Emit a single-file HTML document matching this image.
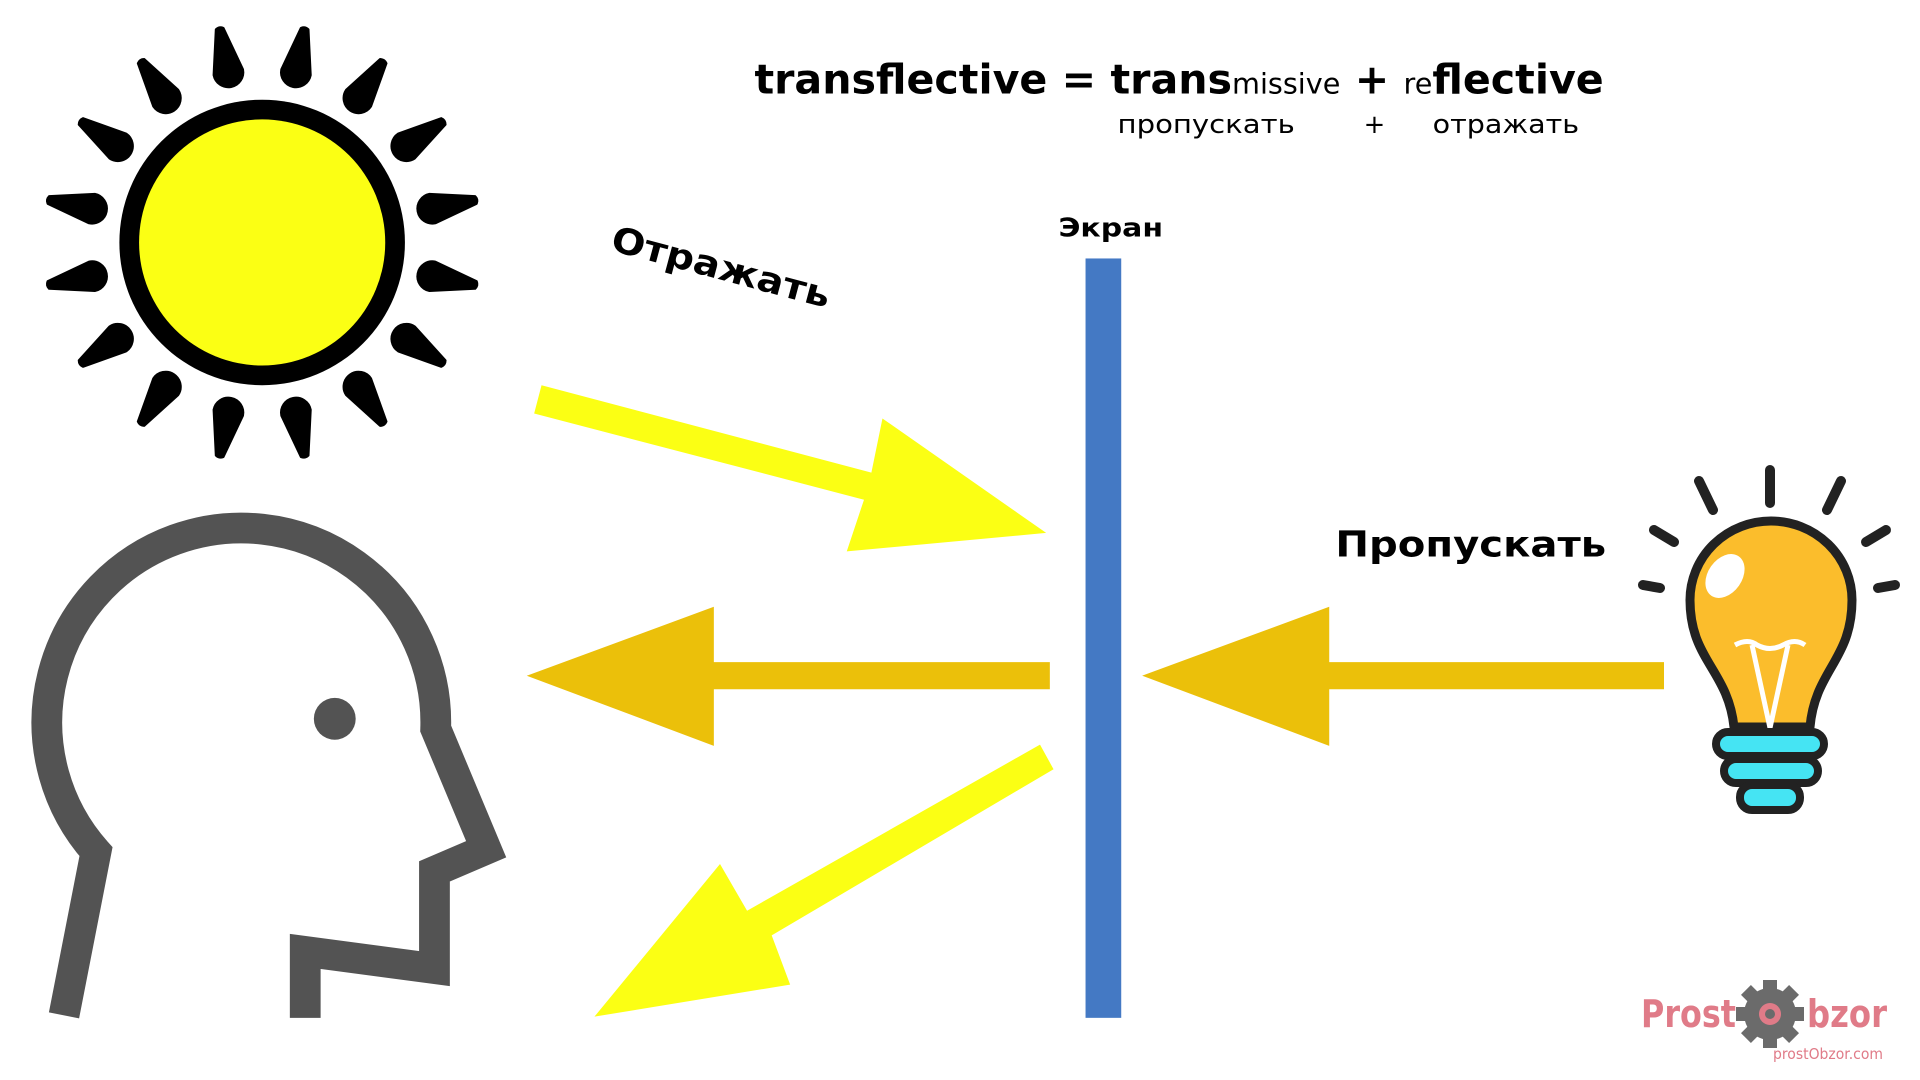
<!DOCTYPE html>
<html><head><meta charset="utf-8"><style>html,body{margin:0;padding:0;background:#fff;}svg{display:block}</style></head>
<body>
<svg width="1920" height="1080" viewBox="0 0 1560 877.5" xmlns="http://www.w3.org/2000/svg" font-family="DejaVu Sans, Liberation Sans, sans-serif">
<rect width="1560" height="877.5" fill="#fff"/>
<!-- sun rays -->
<g transform="translate(213,197)" fill="#000">
  <g id="ray" transform="rotate(11.25)"><path d="M-3,-177 Q0,-179 3,-177 L12,-141 A12 12 0 0 1 -12 -141 Z" stroke="#000" stroke-width="2" stroke-linejoin="round"/></g>
  <use href="#ray" transform="rotate(22.5)"/><use href="#ray" transform="rotate(45)"/><use href="#ray" transform="rotate(67.5)"/>
  <use href="#ray" transform="rotate(90)"/><use href="#ray" transform="rotate(112.5)"/><use href="#ray" transform="rotate(135)"/>
  <use href="#ray" transform="rotate(157.5)"/><use href="#ray" transform="rotate(180)"/><use href="#ray" transform="rotate(202.5)"/>
  <use href="#ray" transform="rotate(225)"/><use href="#ray" transform="rotate(247.5)"/><use href="#ray" transform="rotate(270)"/>
  <use href="#ray" transform="rotate(292.5)"/><use href="#ray" transform="rotate(315)"/><use href="#ray" transform="rotate(337.5)"/>
  <circle r="116" fill="#000"/><circle r="100" fill="#fbff14"/>
</g>
<!-- head -->
<path d="M52,825 L78,692 A158 158 0 1 1 354 592 L395 690 L353 708 L353 787 L248 773 L248 827" fill="none" stroke="#535353" stroke-width="25" stroke-linejoin="miter"/>
<circle cx="272" cy="584" r="17" fill="#535353"/>
<!-- screen -->
<rect x="882" y="210" width="29" height="617" fill="#4479c4"/>
<!-- arrows -->
<polygon points="440,313 708,384 717,340 850,433 688,448 702,406 434,336" fill="#fbff14"/>
<polygon points="853,538 580,538 580,493 428,549 580,606 580,560 853,560" fill="#ebc00a"/>
<polygon points="1352,538 1080,538 1080,493 928,549 1080,606 1080,560 1352,560" fill="#ebc00a"/>
<polygon points="845,605 856,625 627,760 642,800 483,826 585,702 607,740" fill="#fbff14"/>
<!-- text -->
<text x="613" y="76" font-size="33" font-weight="bold" fill="#000" textLength="690" lengthAdjust="spacingAndGlyphs">transflective = trans<tspan font-size="23" font-weight="normal">missive</tspan> + <tspan font-size="23" font-weight="normal">re</tspan>flective</text>
<text x="908" y="108" font-size="21" fill="#000" textLength="144" lengthAdjust="spacingAndGlyphs">пропускать</text>
<text x="1108" y="108" font-size="21" fill="#000">+</text>
<text x="1164" y="108" font-size="21" fill="#000" textLength="119" lengthAdjust="spacingAndGlyphs">отражать</text>
<text x="860" y="192" font-size="21" font-weight="bold" fill="#000" textLength="85" lengthAdjust="spacingAndGlyphs">Экран</text>
<text x="495" y="203" font-size="29" font-weight="bold" fill="#000" transform="rotate(15 495 203)" textLength="183" lengthAdjust="spacingAndGlyphs">Отражать</text>
<text x="1085" y="452" font-size="29" font-weight="bold" fill="#000" textLength="220" lengthAdjust="spacingAndGlyphs">Пропускать</text>
<!-- bulb and logo in full coords -->
<g transform="scale(0.8125)">
  <g stroke="#222" stroke-width="10" stroke-linecap="round">
    <line x1="1770" y1="470" x2="1770" y2="503"/>
    <line x1="1699" y1="481" x2="1713" y2="510"/>
    <line x1="1841" y1="481" x2="1827" y2="510"/>
    <line x1="1654" y1="530" x2="1674" y2="542"/>
    <line x1="1886" y1="530" x2="1866" y2="542"/>
    <line x1="1643" y1="585" x2="1660" y2="588"/>
    <line x1="1878" y1="588" x2="1895" y2="585"/>
  </g>
  <path d="M1734,727 C1728,670 1690,660 1690,600 A80 78 0 0 1 1852 600 C1852,660 1815,670 1810,727 Z" fill="#fbbd2c" stroke="#222" stroke-width="9"/>
  <ellipse cx="1725" cy="576" rx="17" ry="24" transform="rotate(35 1725 576)" fill="#fff"/>
  <path d="M1735,645 Q1748,638 1757,645 Q1770,652 1783,645 Q1795,638 1805,645 M1752,645 L1770,728 L1788,645" fill="none" stroke="#fff" stroke-width="5"/>
  <rect x="1716" y="732" width="108" height="24" rx="12" fill="#45e4f3" stroke="#222" stroke-width="8"/>
  <rect x="1724" y="759" width="94" height="24" rx="12" fill="#45e4f3" stroke="#222" stroke-width="8"/>
  <rect x="1740" y="785" width="60" height="25" rx="12" fill="#45e4f3" stroke="#222" stroke-width="8"/>
  <text x="1641" y="1027" font-size="38" font-weight="bold" fill="#e07b88" textLength="95" lengthAdjust="spacingAndGlyphs">Prost</text>
  <g transform="translate(1770,1014)" fill="#6b6b6b">
    <circle r="26"/>
    <g id="t"><rect x="-7" y="-34" width="14" height="14"/></g>
    <use href="#t" transform="rotate(45)"/><use href="#t" transform="rotate(90)"/><use href="#t" transform="rotate(135)"/>
    <use href="#t" transform="rotate(180)"/><use href="#t" transform="rotate(225)"/><use href="#t" transform="rotate(270)"/><use href="#t" transform="rotate(315)"/>
    <circle r="11" fill="#e07b88"/><circle r="5" fill="#6b6b6b"/>
  </g>
  <text x="1807" y="1027" font-size="38" font-weight="bold" fill="#e07b88" textLength="80" lengthAdjust="spacingAndGlyphs">bzor</text>
  <text x="1773" y="1059" font-size="15" fill="#e07b88" textLength="110" lengthAdjust="spacingAndGlyphs">prostObzor.com</text>
</g>
</svg>
</body></html>
